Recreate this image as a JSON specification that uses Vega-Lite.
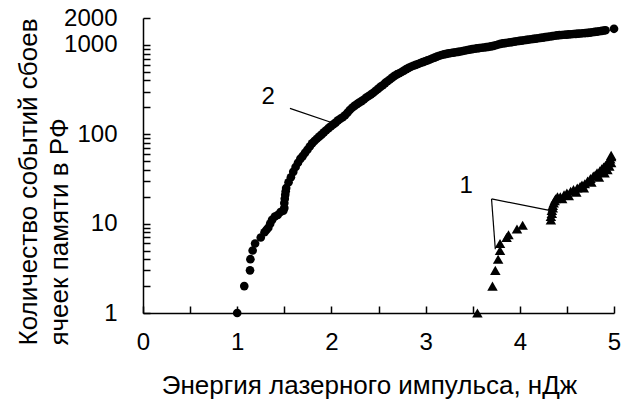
{
  "$schema": "https://vega.github.io/schema/vega-lite/v6.json",
  "width": 471,
  "height": 295,
  "autosize": {"type": "none"},
  "padding": {"left": 143, "top": 18, "right": 14, "bottom": 86},
  "background": "white",
  "config": {
    "view": {"stroke": null},
    "font": "Liberation Sans",
    "axis": {
      "grid": false,
      "domainColor": "black",
      "domainWidth": 1.5,
      "labelColor": "black",
      "labelFont": "Liberation Sans",
      "labelFontSize": 24,
      "titleFont": "Liberation Sans",
      "titleFontSize": 26,
      "titleFontWeight": "normal",
      "titleColor": "black",
      "labelOverlap": false,
      "labelFlush": false
    }
  },
  "resolve": {"axis": {"x": "independent", "y": "independent"}},
  "datasets": {
    "pts": [
      {"e": 1.0, "n": 1, "s": "2"}, {"e": 1.075, "n": 2, "s": "2"}, {"e": 1.136, "n": 3, "s": "2"}, {"e": 1.14, "n": 4, "s": "2"},
      {"e": 1.164, "n": 5, "s": "2"}, {"e": 1.19, "n": 6, "s": "2"}, {"e": 1.25, "n": 7, "s": "2"}, {"e": 1.29, "n": 8, "s": "2"},
      {"e": 1.31, "n": 8.5, "s": "2"}, {"e": 1.33, "n": 9, "s": "2"}, {"e": 1.35, "n": 10, "s": "2"}, {"e": 1.37, "n": 11, "s": "2"},
      {"e": 1.4, "n": 12, "s": "2"}, {"e": 1.43, "n": 12.5, "s": "2"}, {"e": 1.46, "n": 13.5, "s": "2"}, {"e": 1.49, "n": 14, "s": "2"},
      {"e": 1.5, "n": 15, "s": "2"}, {"e": 1.5, "n": 17, "s": "2"}, {"e": 1.505, "n": 19, "s": "2"}, {"e": 1.51, "n": 21, "s": "2"},
      {"e": 1.515, "n": 23, "s": "2"}, {"e": 1.52, "n": 25, "s": "2"}, {"e": 1.545, "n": 29, "s": "2"}, {"e": 1.57, "n": 33, "s": "2"},
      {"e": 1.595, "n": 38, "s": "2"}, {"e": 1.62, "n": 43, "s": "2"}, {"e": 1.645, "n": 48, "s": "2"}, {"e": 1.67, "n": 53, "s": "2"},
      {"e": 1.695, "n": 57, "s": "2"}, {"e": 1.72, "n": 62, "s": "2"}, {"e": 1.745, "n": 67, "s": "2"}, {"e": 1.77, "n": 73, "s": "2"},
      {"e": 1.795, "n": 79, "s": "2"}, {"e": 1.82, "n": 84, "s": "2"}, {"e": 1.845, "n": 89, "s": "2"}, {"e": 1.87, "n": 94, "s": "2"},
      {"e": 1.895, "n": 99, "s": "2"}, {"e": 1.92, "n": 105, "s": "2"}, {"e": 1.945, "n": 111, "s": "2"}, {"e": 1.97, "n": 117, "s": "2"},
      {"e": 1.995, "n": 123, "s": "2"}, {"e": 2.02, "n": 129, "s": "2"}, {"e": 2.045, "n": 135, "s": "2"}, {"e": 2.07, "n": 143, "s": "2"},
      {"e": 2.095, "n": 149, "s": "2"}, {"e": 2.12, "n": 155, "s": "2"}, {"e": 2.145, "n": 163, "s": "2"}, {"e": 2.17, "n": 174, "s": "2"},
      {"e": 2.195, "n": 187, "s": "2"}, {"e": 2.22, "n": 198, "s": "2"}, {"e": 2.245, "n": 208, "s": "2"}, {"e": 2.27, "n": 217, "s": "2"},
      {"e": 2.295, "n": 226, "s": "2"}, {"e": 2.32, "n": 235, "s": "2"}, {"e": 2.345, "n": 245, "s": "2"}, {"e": 2.37, "n": 258, "s": "2"},
      {"e": 2.395, "n": 268, "s": "2"}, {"e": 2.42, "n": 279, "s": "2"}, {"e": 2.445, "n": 291, "s": "2"}, {"e": 2.47, "n": 307, "s": "2"},
      {"e": 2.495, "n": 322, "s": "2"}, {"e": 2.52, "n": 339, "s": "2"}, {"e": 2.545, "n": 354, "s": "2"}, {"e": 2.57, "n": 374, "s": "2"},
      {"e": 2.595, "n": 392, "s": "2"}, {"e": 2.62, "n": 410, "s": "2"}, {"e": 2.645, "n": 430, "s": "2"}, {"e": 2.67, "n": 450, "s": "2"},
      {"e": 2.695, "n": 467, "s": "2"}, {"e": 2.72, "n": 482, "s": "2"}, {"e": 2.745, "n": 497, "s": "2"}, {"e": 2.77, "n": 516, "s": "2"},
      {"e": 2.795, "n": 536, "s": "2"}, {"e": 2.82, "n": 553, "s": "2"}, {"e": 2.845, "n": 570, "s": "2"}, {"e": 2.87, "n": 585, "s": "2"},
      {"e": 2.895, "n": 597, "s": "2"}, {"e": 2.92, "n": 612, "s": "2"}, {"e": 2.945, "n": 628, "s": "2"}, {"e": 2.97, "n": 642, "s": "2"},
      {"e": 2.995, "n": 657, "s": "2"}, {"e": 3.02, "n": 672, "s": "2"}, {"e": 3.045, "n": 687, "s": "2"}, {"e": 3.07, "n": 704, "s": "2"},
      {"e": 3.095, "n": 721, "s": "2"}, {"e": 3.12, "n": 739, "s": "2"}, {"e": 3.145, "n": 756, "s": "2"}, {"e": 3.17, "n": 771, "s": "2"},
      {"e": 3.195, "n": 783, "s": "2"}, {"e": 3.22, "n": 793, "s": "2"}, {"e": 3.245, "n": 803, "s": "2"}, {"e": 3.27, "n": 811, "s": "2"},
      {"e": 3.295, "n": 820, "s": "2"}, {"e": 3.32, "n": 828, "s": "2"}, {"e": 3.345, "n": 836, "s": "2"}, {"e": 3.37, "n": 843, "s": "2"},
      {"e": 3.395, "n": 854, "s": "2"}, {"e": 3.42, "n": 865, "s": "2"}, {"e": 3.445, "n": 876, "s": "2"}, {"e": 3.47, "n": 887, "s": "2"},
      {"e": 3.495, "n": 898, "s": "2"}, {"e": 3.52, "n": 906, "s": "2"}, {"e": 3.545, "n": 914, "s": "2"}, {"e": 3.57, "n": 922, "s": "2"},
      {"e": 3.595, "n": 929, "s": "2"}, {"e": 3.62, "n": 936, "s": "2"}, {"e": 3.645, "n": 945, "s": "2"}, {"e": 3.67, "n": 952, "s": "2"},
      {"e": 3.695, "n": 962, "s": "2"}, {"e": 3.72, "n": 976, "s": "2"}, {"e": 3.745, "n": 992, "s": "2"}, {"e": 3.77, "n": 1010, "s": "2"},
      {"e": 3.795, "n": 1027, "s": "2"}, {"e": 3.82, "n": 1038, "s": "2"}, {"e": 3.845, "n": 1048, "s": "2"}, {"e": 3.87, "n": 1058, "s": "2"},
      {"e": 3.895, "n": 1067, "s": "2"}, {"e": 3.92, "n": 1076, "s": "2"}, {"e": 3.945, "n": 1086, "s": "2"}, {"e": 3.97, "n": 1099, "s": "2"},
      {"e": 3.995, "n": 1108, "s": "2"}, {"e": 4.02, "n": 1118, "s": "2"}, {"e": 4.045, "n": 1128, "s": "2"}, {"e": 4.07, "n": 1138, "s": "2"},
      {"e": 4.095, "n": 1148, "s": "2"}, {"e": 4.12, "n": 1157, "s": "2"}, {"e": 4.145, "n": 1167, "s": "2"}, {"e": 4.17, "n": 1177, "s": "2"},
      {"e": 4.195, "n": 1187, "s": "2"}, {"e": 4.22, "n": 1197, "s": "2"}, {"e": 4.245, "n": 1208, "s": "2"}, {"e": 4.27, "n": 1220, "s": "2"},
      {"e": 4.295, "n": 1230, "s": "2"}, {"e": 4.32, "n": 1241, "s": "2"}, {"e": 4.345, "n": 1253, "s": "2"}, {"e": 4.37, "n": 1266, "s": "2"},
      {"e": 4.395, "n": 1278, "s": "2"}, {"e": 4.42, "n": 1286, "s": "2"}, {"e": 4.445, "n": 1292, "s": "2"}, {"e": 4.47, "n": 1298, "s": "2"},
      {"e": 4.495, "n": 1304, "s": "2"}, {"e": 4.52, "n": 1311, "s": "2"}, {"e": 4.545, "n": 1317, "s": "2"}, {"e": 4.57, "n": 1323, "s": "2"},
      {"e": 4.595, "n": 1329, "s": "2"}, {"e": 4.62, "n": 1336, "s": "2"}, {"e": 4.645, "n": 1343, "s": "2"}, {"e": 4.67, "n": 1351, "s": "2"},
      {"e": 4.695, "n": 1357, "s": "2"}, {"e": 4.72, "n": 1364, "s": "2"}, {"e": 4.745, "n": 1372, "s": "2"}, {"e": 4.77, "n": 1385, "s": "2"},
      {"e": 4.795, "n": 1398, "s": "2"}, {"e": 4.82, "n": 1410, "s": "2"}, {"e": 4.845, "n": 1422, "s": "2"}, {"e": 4.87, "n": 1437, "s": "2"},
      {"e": 4.895, "n": 1450, "s": "2"}, {"e": 4.91, "n": 1458, "s": "2"}, {"e": 5.0, "n": 1514, "s": "2"},
      {"e": 3.55, "n": 1, "s": "1"}, {"e": 3.71, "n": 2, "s": "1"}, {"e": 3.74, "n": 3, "s": "1"}, {"e": 3.77, "n": 4, "s": "1"},
      {"e": 3.79, "n": 5, "s": "1"}, {"e": 3.79, "n": 6, "s": "1"}, {"e": 3.86, "n": 7, "s": "1"}, {"e": 3.88, "n": 7.5, "s": "1"},
      {"e": 3.97, "n": 8.7, "s": "1"}, {"e": 4.03, "n": 9.6, "s": "1"},
      {"e": 4.33, "n": 11, "s": "1"}, {"e": 4.33, "n": 12, "s": "1"}, {"e": 4.34, "n": 13, "s": "1"}, {"e": 4.34, "n": 14, "s": "1"},
      {"e": 4.35, "n": 15, "s": "1"}, {"e": 4.35, "n": 16, "s": "1"}, {"e": 4.36, "n": 17, "s": "1"}, {"e": 4.37, "n": 18, "s": "1"},
      {"e": 4.38, "n": 19, "s": "1"}, {"e": 4.4, "n": 20, "s": "1"}, {"e": 4.43, "n": 20, "s": "1"}, {"e": 4.47, "n": 21, "s": "1"},
      {"e": 4.5, "n": 22, "s": "1"}, {"e": 4.54, "n": 23, "s": "1"}, {"e": 4.57, "n": 24, "s": "1"}, {"e": 4.61, "n": 25, "s": "1"},
      {"e": 4.64, "n": 26, "s": "1"}, {"e": 4.66, "n": 27, "s": "1"}, {"e": 4.69, "n": 28, "s": "1"}, {"e": 4.72, "n": 30, "s": "1"},
      {"e": 4.75, "n": 32, "s": "1"}, {"e": 4.78, "n": 34, "s": "1"}, {"e": 4.8, "n": 35, "s": "1"}, {"e": 4.82, "n": 37, "s": "1"},
      {"e": 4.85, "n": 39, "s": "1"}, {"e": 4.87, "n": 41, "s": "1"}, {"e": 4.89, "n": 43, "s": "1"}, {"e": 4.91, "n": 45, "s": "1"},
      {"e": 4.93, "n": 47, "s": "1"}, {"e": 4.95, "n": 50, "s": "1"}, {"e": 4.96, "n": 53, "s": "1"}, {"e": 4.97, "n": 56, "s": "1"},
      {"e": 4.97, "n": 58, "s": "1"}, {"e": 4.45, "n": 19, "s": "1"}, {"e": 4.52, "n": 20.5, "s": "1"}, {"e": 4.6, "n": 22.5, "s": "1"},
      {"e": 4.68, "n": 25, "s": "1"}, {"e": 4.76, "n": 29, "s": "1"}, {"e": 4.84, "n": 33, "s": "1"}, {"e": 4.9, "n": 37, "s": "1"},
      {"e": 4.93, "n": 40, "s": "1"}, {"e": 4.95, "n": 44, "s": "1"}, {"e": 4.97, "n": 48, "s": "1"}
    ],
    "labels": [
      {"e": 1.33, "n": 264, "t": "2"},
      {"e": 3.43, "n": 26.6, "t": "1"}
    ],
    "leaders": [
      {"e": 1.56, "n": 195, "e2": 2.04, "n2": 131},
      {"e": 3.7, "n": 18.9, "e2": 3.74, "n2": 5.17},
      {"e": 3.7, "n": 18.9, "e2": 4.34, "n2": 13.9}
    ]
  },
  "layer": [
    {
      "data": {"name": "pts"},
      "transform": [{"filter": "datum.s === '2'"}],
      "mark": {"type": "point", "shape": "circle", "filled": true, "color": "black", "opacity": 1, "size": 75, "clip": false},
      "encoding": {
        "x": {
          "field": "e", "type": "quantitative",
          "scale": {"domain": [0, 5], "nice": false, "zero": false},
          "axis": {
            "orient": "bottom",
            "title": "Энергия лазерного импульса, нДж",
            "values": [0, 1, 2, 3, 4, 5],
            "format": "d",
            "ticks": false,
            "labelPadding": 17,
            "titleBaseline": "alphabetic",
            "titleY": 80,
            "titleX": 226
          }
        },
        "y": {
          "field": "n", "type": "quantitative",
          "scale": {"type": "log", "domain": [1, 2000], "nice": false},
          "axis": {
            "orient": "left",
            "title": ["Количество событий сбоев", "ячеек памяти в РФ"],
            "values": [1, 10, 100, 1000, 2000],
            "format": "d",
            "ticks": false,
            "labelPadding": 26,
            "titleAngle": 270,
            "titleAlign": "left",
            "titleBaseline": "top",
            "titleX": -128,
            "titleY": 327,
            "titleLineHeight": 31
          }
        }
      }
    },
    {
      "data": {"name": "pts"},
      "transform": [{"filter": "datum.s === '1'"}],
      "mark": {"type": "point", "shape": "triangle-up", "filled": true, "color": "black", "opacity": 1, "size": 110, "clip": false},
      "encoding": {
        "x": {
          "field": "e", "type": "quantitative",
          "axis": {
            "orient": "top",
            "offset": -295,
            "title": null,
            "labels": false,
            "domain": false,
            "ticks": true,
            "tickSize": 7,
            "tickColor": "black",
            "tickWidth": 1.5,
            "values": [0, 0.5, 1, 1.5, 2, 2.5, 3, 3.5, 4, 4.5, 5]
          }
        },
        "y": {
          "field": "n", "type": "quantitative",
          "axis": {
            "orient": "right",
            "offset": -471,
            "title": null,
            "labels": false,
            "domain": false,
            "ticks": true,
            "tickSize": 7,
            "tickColor": "black",
            "tickWidth": 1.5,
            "values": [1, 2, 3, 4, 5, 6, 7, 8, 9, 10, 20, 30, 40, 50, 60, 70, 80, 90, 100, 200, 300, 400, 500, 600, 700, 800, 900, 1000, 2000]
          }
        }
      }
    },
    {
      "data": {"name": "leaders"},
      "mark": {"type": "rule", "color": "black", "strokeWidth": 1.2},
      "encoding": {
        "x": {"field": "e", "type": "quantitative", "axis": null},
        "x2": {"field": "e2"},
        "y": {"field": "n", "type": "quantitative", "axis": null},
        "y2": {"field": "n2"}
      }
    },
    {
      "data": {"name": "labels"},
      "mark": {"type": "text", "font": "Liberation Sans", "fontSize": 24, "color": "black", "align": "center", "baseline": "middle"},
      "encoding": {
        "x": {"field": "e", "type": "quantitative", "axis": null},
        "y": {"field": "n", "type": "quantitative", "axis": null},
        "text": {"field": "t"}
      }
    }
  ]
}
